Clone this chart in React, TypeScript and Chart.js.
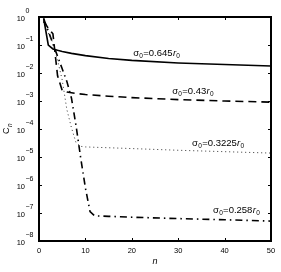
import React, { useEffect, useRef } from 'react';
import { Chart, registerables } from 'chart.js';
Chart.register(...registerables);

// ---- data ----
const nSolid = [1, 2, 3, 4, 5, 7, 10, 15, 20, 30, 40, 50];
const cSolid = [0.891, 0.1, 0.0724, 0.0646, 0.0589, 0.0501, 0.0417, 0.0331, 0.0282, 0.0229, 0.02, 0.0178];

const nDashed = [1, 2, 3, 4, 5, 6, 8, 10, 15, 20, 30, 40, 50];
const cDashed = [0.708, 0.398, 0.251, 0.00794, 0.0024, 0.00209, 0.00186, 0.0017, 0.00148, 0.00132, 0.00112, 0.001, 0.000912];

const nDotted = [1, 2, 3, 4, 5, 6, 7, 8, 9, 10, 20, 30, 40, 50];
const cDotted = [0.661, 0.269, 0.117, 0.0288, 0.00562, 5.01e-4, 1.1e-4, 3.16e-5, 2.4e-5, 2.29e-5, 2.0e-5, 1.74e-5, 1.55e-5, 1.38e-5];

const nDashDot = [1, 2, 3, 4, 5, 6, 7, 8, 9, 10, 11, 12, 15, 20, 30, 40, 50];
const cDashDot = [0.891, 0.316, 0.112, 0.0398, 0.0141, 0.00501, 1.26e-3, 1.26e-4, 8.91e-6, 7.94e-7, 1.12e-7, 7.94e-8, 7.59e-8, 7.08e-8, 6.31e-8, 5.75e-8, 5.13e-8];

const sigmaLabels = ['0.645', '0.43', '0.3225', '0.258'];
const xTicks = [0, 10, 20, 30, 40, 50];
const yExponents = [0, -1, -2, -3, -4, -5, -6, -7, -8];
const xTitle = 'n';
const yTitle = 'C';
const yTitleSub = 'n';

// annotation anchors in data units (n, C)
const annN = [20.3, 28.7, 33, 37.5];
const annC = [0.0513, 0.00229, 3.16e-5, 1.29e-7];

const FONT = '"Liberation Sans", Arial, Helvetica, sans-serif';

function toXY(ns: number[], cs: number[]) {
  return ns.map((n, i) => ({ x: n, y: cs[i] }));
}

const overlay = {
  id: 'overlay',
  afterDraw(chart: any) {
    const ctx = chart.ctx as CanvasRenderingContext2D;
    const { left, right, top, bottom } = chart.chartArea;
    const xs = chart.scales.x;
    const ys = chart.scales.y;
    ctx.save();
    ctx.strokeStyle = '#000';
    ctx.fillStyle = '#000';
    // box
    ctx.lineWidth = 2;
    ctx.strokeRect(left, top, right - left, bottom - top);
    // ticks
    ctx.lineWidth = 1;
    const line = (x1: number, y1: number, x2: number, y2: number) => {
      ctx.beginPath();
      ctx.moveTo(x1, y1);
      ctx.lineTo(x2, y2);
      ctx.stroke();
    };
    ctx.font = `7.5px ${FONT}`;
    ctx.textAlign = 'center';
    ctx.textBaseline = 'middle';
    xTicks.forEach((v) => {
      const px = Math.round(xs.getPixelForValue(v)) + 0.5;
      line(px, bottom, px, bottom - 3);
      line(px, top, px, top + 3);
      ctx.fillText(String(v), xs.getPixelForValue(v), bottom + 10);
    });
    yExponents.forEach((e) => {
      const py = Math.round(ys.getPixelForValue(Math.pow(10, e))) + 0.5;
      line(left, py, left + 3, py);
      line(right, py, right - 3, py);
      const yc = ys.getPixelForValue(Math.pow(10, e));
      ctx.font = `7.5px ${FONT}`;
      ctx.textAlign = 'right';
      ctx.textBaseline = 'middle';
      ctx.fillText('10', left - 14, yc + 1.5);
      ctx.font = `7px ${FONT}`;
      ctx.textAlign = 'left';
      ctx.fillText(e === 0 ? '0' : '\u2212' + Math.abs(e), left - 13.5, yc - 5.5);
    });
    // axis titles
    ctx.font = `italic 9px ${FONT}`;
    ctx.textAlign = 'center';
    ctx.textBaseline = 'middle';
    ctx.fillText(xTitle, (left + right) / 2, bottom + 20);
    ctx.save();
    ctx.translate(7, (top + bottom) / 2);
    ctx.rotate(-Math.PI / 2);
    ctx.font = `9px ${FONT}`;
    ctx.textAlign = 'left';
    const wC = ctx.measureText(yTitle).width;
    ctx.font = `italic 6.5px ${FONT}`;
    const wN = ctx.measureText(yTitleSub).width;
    const x0 = -(wC + wN) / 2;
    ctx.font = `9px ${FONT}`;
    ctx.fillText(yTitle, x0, 0);
    ctx.font = `italic 6.5px ${FONT}`;
    ctx.fillText(yTitleSub, x0 + wC + 0.5, 3);
    ctx.restore();
    // annotations
    sigmaLabels.forEach((s, i) => {
      let x = xs.getPixelForValue(annN[i]);
      const y = ys.getPixelForValue(annC[i]);
      ctx.textAlign = 'left';
      ctx.textBaseline = 'middle';
      const parts: [string, string, number][] = [
        ['\u03c3', `9.5px ${FONT}`, 0],
        ['0', `6.5px ${FONT}`, 3],
        ['=' + s, `9.5px ${FONT}`, 0],
        ['r', `italic 9.5px ${FONT}`, 0],
        ['0', `6.5px ${FONT}`, 3],
      ];
      parts.forEach(([t, f, dy]) => {
        ctx.font = f;
        ctx.fillText(t, x, y + dy);
        x += ctx.measureText(t).width + 0.3;
      });
    });
    ctx.restore();
  },
};

export default function App() {
  const ref = useRef<HTMLCanvasElement>(null);
  useEffect(() => {
    if (!ref.current) return;
    const chart = new Chart(ref.current, {
      type: 'line',
      data: {
        datasets: [
          {
            label: 'σ0=0.645r0',
            data: toXY(nSolid, cSolid),
            borderColor: '#000',
            borderWidth: 1.6,
            pointRadius: 0,
            tension: 0,
          },
          {
            label: 'σ0=0.43r0',
            data: toXY(nDashed, cDashed),
            borderColor: '#000',
            borderWidth: 1.6,
            borderDash: [8, 5],
            pointRadius: 0,
            tension: 0,
          },
          {
            label: 'σ0=0.3225r0',
            data: toXY(nDotted, cDotted),
            borderColor: '#333',
            borderWidth: 1,
            borderDash: [1, 3],
            pointRadius: 0,
            tension: 0,
          },
          {
            label: 'σ0=0.258r0',
            data: toXY(nDashDot, cDashDot),
            borderColor: '#000',
            borderWidth: 1.6,
            borderDash: [7, 4, 1.5, 4],
            pointRadius: 0,
            tension: 0,
          },
        ],
      },
      options: {
        animation: false,
        responsive: false,
        devicePixelRatio: 1,
        parsing: false as any,
        layout: { padding: { left: 0, top: 17, right: 10, bottom: 0 } },
        plugins: { legend: { display: false }, tooltip: { enabled: false } },
        scales: {
          x: {
            type: 'linear',
            min: 0,
            max: 50,
            ticks: { display: false },
            grid: { display: false },
            border: { display: false },
            afterFit: (s: any) => {
              s.height = 31;
            },
          },
          y: {
            type: 'logarithmic',
            min: 1e-8,
            max: 1,
            ticks: { display: false },
            grid: { display: false },
            border: { display: false },
            afterFit: (s: any) => {
              s.width = 39;
            },
          },
        },
      },
      plugins: [overlay],
    });
    return () => chart.destroy();
  }, []);
  return (
    <div style={{ position: 'fixed', left: 0, top: 0, width: 281, height: 272, background: '#fff' }}>
      <canvas ref={ref} width={281} height={272} style={{ display: 'block' }} />
    </div>
  );
}
